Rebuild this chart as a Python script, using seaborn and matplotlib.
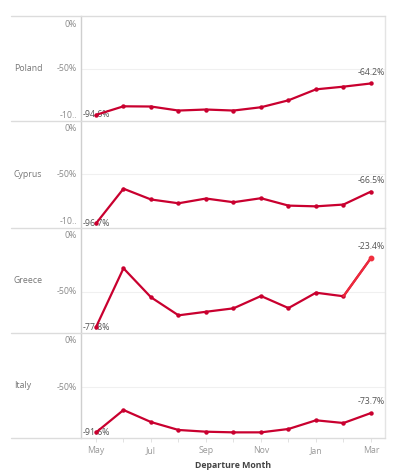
import matplotlib
matplotlib.use("Agg")
import matplotlib.pyplot as plt
from matplotlib.lines import Line2D
import matplotlib.transforms as mtransforms
import seaborn as sns
import pandas as pd

months = ["May", "Jun", "Jul", "Aug", "Sep", "Oct", "Nov", "Dec", "Jan", "Feb", "Mar"]
countries = ["Poland", "Cyprus", "Greece", "Italy"]
poland = [-94.6, -86.3, -86.5, -90.4, -89.4, -90.4, -87.2, -80.5, -69.9, -67.3, -64.2]
cyprus = [-96.7, -63.8, -74.0, -77.6, -73.1, -76.6, -72.8, -79.8, -80.5, -78.8, -66.5]
greece = [-77.8, -31.5, -54.3, -68.5, -65.7, -63.0, -53.3, -62.8, -50.7, -53.5, -23.4]
italy = [-91.6, -70.9, -82.0, -89.3, -90.9, -91.5, -91.5, -88.4, -80.4, -82.9, -73.7]
series = [poland, cyprus, greece, italy]
ylims = [(-100.5, 1.0), (-101.0, 0.3), (-82.4, 0.2), (-96.7, 0.0)]
yticks = [[0, -50, -100], [0, -50, -100], [0, -50], [0, -50]]
ytlabels = [["0%", "-50%", "-10.."], ["0%", "-50%", "-10.."], ["0%", "-50%"], ["0%", "-50%"]]

sns.set_theme(style="white")
plt.rcParams["font.family"] = ["Open Sans", "DejaVu Sans"]

W, H = 398, 473
fig = plt.figure(figsize=(W / 100, H / 100), dpi=100)

bounds = [(16, 121), (121, 228), (228, 333), (333, 438)]
left_px, right_px = 81, 385
line_color = "#c9002f"
fs = 6.3

for i, (c, vals) in enumerate(zip(countries, series)):
    top, bot = bounds[i]
    ax = fig.add_axes([left_px / W, 1 - bot / H, (right_px - left_px) / W, (bot - top) / H])
    df = pd.DataFrame({"m": range(len(months)), "v": vals})
    sns.lineplot(data=df, x="m", y="v", ax=ax, color=line_color, linewidth=1.6,
                 marker="o", markersize=3.2, markeredgewidth=0, zorder=3)
    if c == "Greece":
        ax.plot(df["m"].iloc[-2:], df["v"].iloc[-2:], color="#ee2a3c", linewidth=1.6, zorder=4)
        ax.plot(df["m"].iloc[-1:], df["v"].iloc[-1:], "o", color="#f0303f", markersize=3.2, zorder=5)
    ax.set_xlim(-0.545, 10.51)
    ax.set_ylim(*ylims[i])
    ax.set_xlabel("")
    ax.set_ylabel("")
    for s in ["top", "bottom"]:
        ax.spines[s].set_visible(False)
    ax.spines["left"].set_color("#cfcfcf")
    ax.spines["left"].set_linewidth(1.0)
    ax.spines["right"].set_color("#e4e4e4")
    ax.spines["right"].set_linewidth(1.0)
    ax.axhline(-50, color="#f0f0f0", linewidth=0.8, zorder=0)
    ax.set_yticks([])
    trans = mtransforms.blended_transform_factory(ax.transAxes, ax.transData)
    for tv, tl in zip(yticks[i], ytlabels[i]):
        if tv == 0:
            dy, va = -2.0, "top"
        elif tv == -100:
            dy, va = 0.5, "bottom"
        else:
            dy, va = 0, "center"
        ax.annotate(tl, xy=(0, tv), xycoords=trans, xytext=(-3, dy), textcoords="offset points",
                    ha="right", va=va, fontsize=fs, color="#8a8a8a", annotation_clip=False)
    if i < 3:
        ax.set_xticks([])
    else:
        ax.set_xticks(range(len(months)))
        ax.set_xticklabels([m if k % 2 == 0 else "" for k, m in enumerate(months)])
        ax.tick_params(axis="x", length=3, width=0.6, color="#dddddd", pad=2.5,
                       labelsize=fs, labelcolor="#999999", bottom=True)
    fig.text(14 / W, 1 - (top + bot) / 2 / H, c, fontsize=fs, color="#777777",
             ha="left", va="center")
    ax.annotate(f"{vals[0]:.1f}%", xy=(-0.545, vals[0]), xytext=(1, 0), textcoords="offset points",
                ha="left", va="center", fontsize=fs, color="#555555", zorder=2)
    ax.annotate(f"{vals[-1]:.1f}%", xy=(10, vals[-1]), xytext=(0, 5), textcoords="offset points",
                ha="center", va="bottom", fontsize=fs, color="#555555", zorder=6)

for y in [16, 121, 228, 333, 438]:
    fig.add_artist(Line2D([11 / W, right_px / W], [1 - y / H, 1 - y / H],
                          color="#dcdcdc", linewidth=1.0))

fig.text((left_px + right_px) / 2 / W, 1 - 465 / H, "Departure Month", fontsize=fs,
         fontweight="bold", color="#444444", ha="center", va="center")

fig.savefig("out.png", dpi=100, facecolor="white")
